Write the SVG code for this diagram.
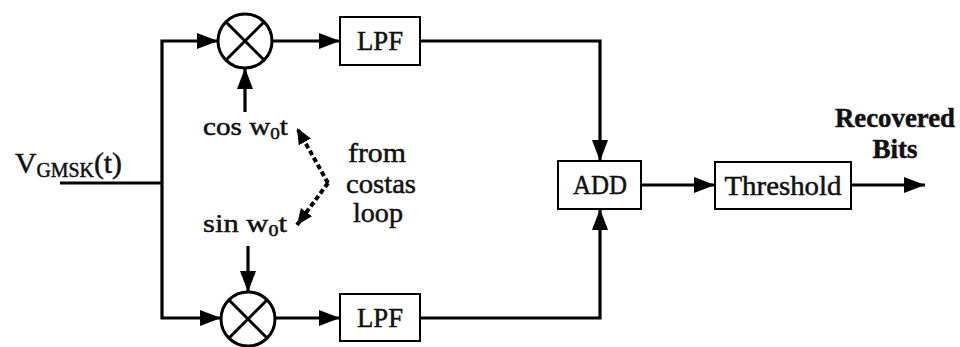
<svg xmlns="http://www.w3.org/2000/svg" width="960" height="347" viewBox="0 0 960 347" font-family="'Liberation Serif', 'DejaVu Serif', serif">
<style>
  text { font-family: "Liberation Serif", "DejaVu Serif", serif; fill: #111; stroke: #111; stroke-width: 0.5; }
  .line { fill: none; stroke: #000; stroke-width: 3.2; }
  .box { fill: #fff; stroke: #000; stroke-width: 2; }
  .mix { fill: #fff; stroke: #000; stroke-width: 3; }
  .dot { fill: none; stroke: #000; stroke-width: 4; stroke-dasharray: 5 3; }
  .lbl { font-size: 27px; text-anchor: middle; }
</style>
<defs>
  <marker id="arr" markerUnits="userSpaceOnUse" markerWidth="24" markerHeight="18" refX="21" refY="8" orient="auto">
    <path d="M0,0 L21,8 L0,16 Z" fill="#000"/>
  </marker>
  <marker id="arrs" markerUnits="userSpaceOnUse" markerWidth="20" markerHeight="16" refX="16" refY="7" orient="auto">
    <path d="M0,0 L16,7 L0,14 Z" fill="#000"/>
  </marker>
</defs>
<rect width="960" height="347" fill="#fff"/>

<g id="connectors">
  <path class="line" d="M60,183 H162"/>
  <path class="line" d="M162,183 V41 H218" marker-end="url(#arr)"/>
  <path class="line" d="M162,183 V318 H221" marker-end="url(#arr)"/>
  <path class="line" d="M272,41 H340" marker-end="url(#arr)"/>
  <path class="line" d="M275,318 H340" marker-end="url(#arr)"/>
  <path class="line" d="M245,112 V68" marker-end="url(#arr)"/>
  <path class="line" d="M248,246 V292" marker-end="url(#arr)"/>
  <path class="line" d="M420,41 H600 V161" marker-end="url(#arr)"/>
  <path class="line" d="M420,318 H600 V209" marker-end="url(#arr)"/>
  <path class="line" d="M641,185 H715" marker-end="url(#arr)"/>
  <path class="line" d="M851,185 H925" marker-end="url(#arr)"/>
  <path class="dot" d="M328,183 L297,128" marker-end="url(#arrs)"/>
  <path class="dot" d="M328,183 L297,225" marker-end="url(#arrs)"/>
</g>

<g id="input">
  <text x="15" y="173" font-size="30" textLength="107" lengthAdjust="spacingAndGlyphs">V<tspan font-size="20" dy="4">GMSK</tspan><tspan dy="-4">(t)</tspan></text>
</g>

<g id="mixer-top">
  <circle class="mix" cx="245" cy="41" r="27"/>
  <path class="mix" d="M226,22 L264,60 M264,22 L226,60"/>
</g>
<g id="mixer-bottom">
  <circle class="mix" cx="248" cy="319" r="27"/>
  <path class="mix" d="M229,300 L267,338 M267,300 L229,338"/>
</g>

<g id="lpf-top">
  <rect class="box" x="340" y="17" width="80" height="48"/>
  <text class="lbl" x="380" y="50" textLength="46" lengthAdjust="spacingAndGlyphs">LPF</text>
</g>
<g id="lpf-bottom">
  <rect class="box" x="340" y="294" width="80" height="47"/>
  <text class="lbl" x="380" y="327" textLength="46" lengthAdjust="spacingAndGlyphs">LPF</text>
</g>

<g id="add">
  <rect class="box" x="558" y="161" width="83" height="48"/>
  <text class="lbl" x="600" y="194" textLength="54" lengthAdjust="spacingAndGlyphs">ADD</text>
</g>
<g id="threshold">
  <rect class="box" x="715" y="162" width="136" height="47"/>
  <text class="lbl" x="783" y="195" textLength="117" lengthAdjust="spacingAndGlyphs">Threshold</text>
</g>

<g id="labels">
  <text x="203" y="135" font-size="26" textLength="85" lengthAdjust="spacingAndGlyphs">cos w<tspan font-size="17" dy="4">0</tspan><tspan dy="-4">t</tspan></text>
  <text x="203" y="232" font-size="26" textLength="84" lengthAdjust="spacingAndGlyphs">sin w<tspan font-size="17" dy="4">0</tspan><tspan dy="-4">t</tspan></text>
  <text class="lbl" x="377" y="162" textLength="58" lengthAdjust="spacingAndGlyphs">from</text>
  <text class="lbl" x="381" y="193" textLength="70" lengthAdjust="spacingAndGlyphs">costas</text>
  <text class="lbl" x="378" y="222" textLength="50" lengthAdjust="spacingAndGlyphs">loop</text>
  <text class="lbl" x="895" y="127" font-weight="bold" textLength="120" lengthAdjust="spacingAndGlyphs">Recovered</text>
  <text class="lbl" x="895" y="158" font-weight="bold">Bits</text>
</g>
</svg>
